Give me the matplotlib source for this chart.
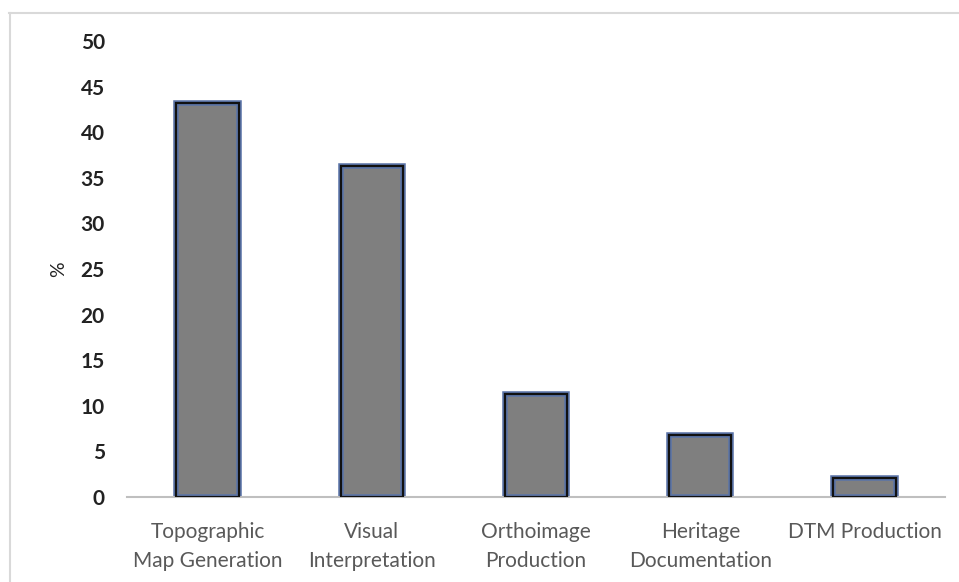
import matplotlib.pyplot as plt
from matplotlib.lines import Line2D

categories = ['Topographic\nMap Generation', 'Visual\nInterpretation', 'Orthoimage\nProduction',
              'Heritage\nDocumentation', 'DTM Production']
values = [43.2, 36.3, 11.3, 6.8, 2.1]
yticks = [0, 5, 10, 15, 20, 25, 30, 35, 40, 45, 50]

plt.rcParams['font.family'] = ['Lato', 'DejaVu Sans']

W, H = 959, 582
fig = plt.figure(figsize=(W / 100, H / 100), dpi=100)
ax = fig.add_axes([127 / W, 1 - 497 / H, (945 - 127) / W, (497 - 41) / H])

x = list(range(len(categories)))
# bluish rim under the black outline
ax.bar(x, values, width=0.38, color='#7f7f7f', edgecolor='#5b74a8', linewidth=4, zorder=2)
ax.bar(x, values, width=0.38, color='none', edgecolor='#111111', linewidth=1.6, zorder=3)

ax.set_ylim(0, 50)
ax.set_xlim(-0.49, 4.49)
ax.set_yticks(yticks)
ax.set_yticklabels([str(v) for v in yticks], fontweight='bold', fontsize=15, color='#222222')
ax.set_xticks(x)
ax.set_xticklabels(categories, fontsize=15, color='#595959', linespacing=1.56)
ax.tick_params(axis='y', length=0, pad=16)
ax.tick_params(axis='x', length=0, pad=18)
ax.set_ylabel('%', fontsize=14, color='#222222')
ax.yaxis.set_label_coords((59 - 127) / 818, 0.5)
ax.yaxis.label.set_verticalalignment('center')

for s in ['top', 'right', 'left']:
    ax.spines[s].set_visible(False)
ax.spines['bottom'].set_color('#bfbfbf')
ax.spines['bottom'].set_linewidth(1.5)

# light frame (top and left only)
fig.add_artist(Line2D([9 / W, 1], [1 - 13 / H, 1 - 13 / H], color='#d9d9d9', lw=1.5))
fig.add_artist(Line2D([10 / W, 10 / W], [0, 1 - 13 / H], color='#d9d9d9', lw=1.5))

fig.savefig('out.png', dpi=100)
